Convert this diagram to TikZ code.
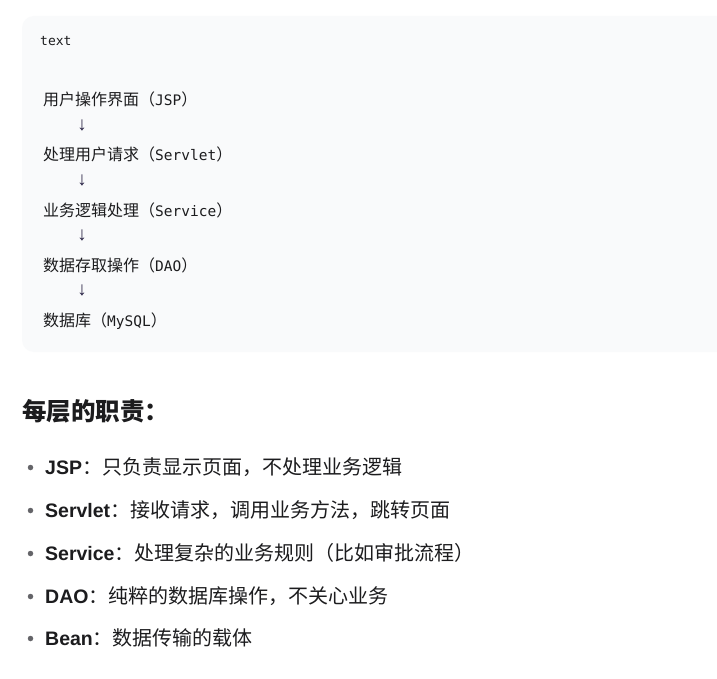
\documentclass[tikz,border=0pt]{standalone}
\usepackage{fontspec}
\newfontfamily\cjk{Noto Sans CJK SC}
\newfontfamily\mono{DejaVu Sans Mono}
\newfontfamily\arrowfont{Liberation Mono}
\newfontfamily\lat{Liberation Sans}
\definecolor{codebg}{RGB}{249,250,251}
\definecolor{ink}{RGB}{28,28,30}
\definecolor{arrowink}{RGB}{36,30,64}
\definecolor{bulletgray}{RGB}{100,100,104}
\newcommand{\codeline}[2]{{\cjk\fontsize{16}{19}\selectfont #1（}{\mono\fontsize{14.5}{18}\selectfont #2}{\cjk\fontsize{16}{19}\selectfont ）}}
\newcommand{\itemline}[2]{{\lat\bfseries\fontsize{19.5}{23}\selectfont #1}{\cjk\fontsize{20}{24}\selectfont ：#2}}
\begin{document}
\begin{tikzpicture}[x=1pt,y=-1pt,
  codetext/.style={anchor=base west, inner sep=0pt, text=ink},
  downarrow/.style={anchor=center, inner sep=0pt, text=arrowink, font=\arrowfont\fontsize{19}{22}\selectfont},
  itemtext/.style={anchor=base west, inner sep=0pt, text=ink},
  bulletdot/.style={circle, fill=bulletgray, inner sep=0pt, minimum size=5.5pt}]
\useasboundingbox (0,0) rectangle (717,679);
\clip (0,0) rectangle (717,679);
\fill[white] (0,0) rectangle (717,679);
\fill[codebg, rounded corners=12pt] (22,16) rectangle (740,352);

\node[codetext, font=\mono\fontsize{13}{16}\selectfont] (lang) at (40,45.5) {text};

\node[codetext] (l1) at (43,106) {\codeline{用户操作界面}{JSP}};
\node[downarrow] (a1) at (82,125) {↓};
\node[codetext] (l2) at (43,161) {\codeline{处理用户请求}{Servlet}};
\node[downarrow] (a2) at (82,180) {↓};
\node[codetext] (l3) at (43,216) {\codeline{业务逻辑处理}{Service}};
\node[downarrow] (a3) at (82,235) {↓};
\node[codetext] (l4) at (43,271) {\codeline{数据存取操作}{DAO}};
\node[downarrow] (a4) at (82,290) {↓};
\node[codetext] (l5) at (43,326) {\codeline{数据库}{MySQL}};

\node[anchor=base west, inner sep=0pt, text=ink, font=\cjk\bfseries\fontsize{24.5}{29}\selectfont] (head) at (22,420) {每层的职责：};

\node[bulletdot] (b1) at (30.5,467.5) {};
\node[itemtext] (t1) at (45,474.5) {\itemline{JSP}{只负责显示页面，不处理业务逻辑}};
\node[bulletdot] (b2) at (30.5,510.5) {};
\node[itemtext] (t2) at (45,517.5) {\itemline{Servlet}{接收请求，调用业务方法，跳转页面}};
\node[bulletdot] (b3) at (30.5,553.5) {};
\node[itemtext] (t3) at (45,560.5) {\itemline{Service}{处理复杂的业务规则（比如审批流程）}};
\node[bulletdot] (b4) at (30.5,596.5) {};
\node[itemtext] (t4) at (45,603.5) {\itemline{DAO}{纯粹的数据库操作，不关心业务}};
\node[bulletdot] (b5) at (30.5,638.5) {};
\node[itemtext] (t5) at (45,645.5) {\itemline{Bean}{数据传输的载体}};
\end{tikzpicture}
\end{document}
